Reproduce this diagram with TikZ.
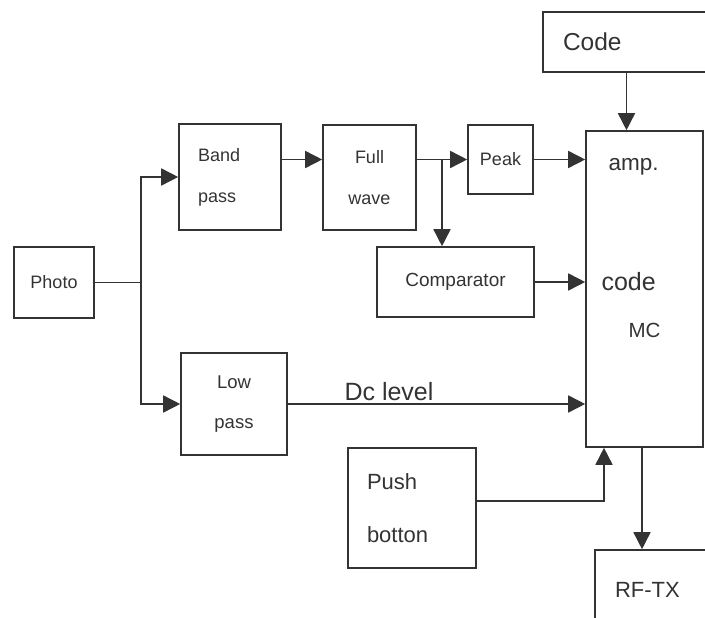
\documentclass[tikz,border=0pt]{standalone}
\usepackage{fontspec}
\setmainfont{Liberation Sans}
\usetikzlibrary{arrows.meta,calc}

\tikzset{
  blk/.style={draw, line width=1.6pt, inner sep=0pt, align=center, font=\fontsize{18}{41}\selectfont},
  wire/.style={line width=1.6pt},
  sig/.style={line width=1.6pt, -{Triangle[length=17pt,width=17pt]}},
}

\begin{document}
\begin{tikzpicture}[x=1pt, y=-1pt, black!80]
\useasboundingbox (0,0) rectangle (705,618);
\node[blk, minimum width=80, minimum height=71] (photo) at (54,282.5) {Photo};
\node[blk, minimum height=106, text width=64, inner xsep=19, align=left] (band) at (230,177) {Band\\pass};
\node[blk, minimum width=93, minimum height=105] (full) at (369.5,177.5) {Full\\wave};
\node[blk, minimum width=65, minimum height=69] (peak) at (500.5,159.5) {Peak};
\node[blk, minimum width=157, minimum height=70, font=\fontsize{19}{23}\selectfont] (comp) at (455.5,282) {Comparator};
\node[blk, minimum width=106, minimum height=102, font=\fontsize{18.5}{40}\selectfont] (low) at (234,404) {Low\\pass};
\node[blk, minimum height=60, text width=127, inner xsep=20, align=left, font=\fontsize{24.5}{29}\selectfont] (code) at (626.5,42) {Code};
\node[blk, minimum width=117, minimum height=316] (mc) at (644.5,289) {};
\node[anchor=base west, font=\fontsize{22.5}{27}\selectfont] (amp) at (605,170) {amp.};
\node[anchor=base west, font=\fontsize{25}{30}\selectfont] (mccode) at (598,290) {code};
\node[anchor=base west, font=\fontsize{20.5}{25}\selectfont] (mcname) at (625,337) {MC};
\node[blk, minimum height=120, text width=90, inner xsep=19, align=left, font=\fontsize{22}{53}\selectfont] (push) at (412,508) {Push\\botton};
\node[blk, minimum height=80, text width=80, inner xsep=20, align=left, font=\fontsize{22}{26}\selectfont] (rftx) at (655,590) {RF-TX};
\node[anchor=base west, font=\fontsize{25}{30}\selectfont] (dc) at (341,400) {Dc level};

\draw[wire] (photo.east) -- ++(46,0) coordinate (fork);
\draw[sig] (fork) |- (band.west);
\draw[sig] (fork) |- (low.west);
\draw[sig] (band.east |- peak) -- (full.west |- peak);
\draw[sig] (full.east |- peak) -- (peak.west);
\coordinate (tap) at ($(full.east |- peak)!0.5!(peak.west)$);
\draw[sig] (tap) -- (tap |- comp.north);
\draw[sig] (peak.east) -- (mc.west |- peak.east);
\draw[sig] (comp.east) -- (mc.west |- comp.east);
\draw[sig] (low.east) -- (mc.west |- low.east);
\draw[sig] (code.south) -- (code.south |- mc.north);
\coordinate (mcin) at ([xshift=-40.5pt]mc.south);
\draw[sig] ([yshift=7pt]push.east) -| (mcin);
\draw[sig] ([xshift=-2.5pt]mc.south) -- ([xshift=-2.5pt]mc.south |- rftx.north);
\end{tikzpicture}
\end{document}
